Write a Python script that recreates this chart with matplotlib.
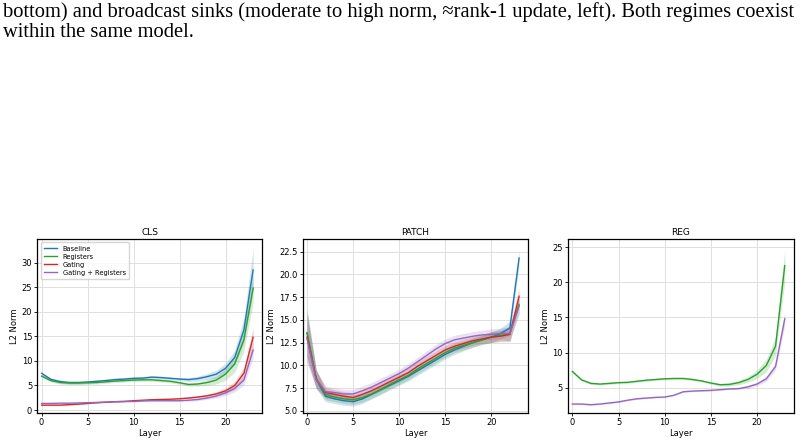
import matplotlib
matplotlib.use("Agg")
import matplotlib.pyplot as plt
import numpy as np

layers = list(range(24))

# CLS panel
cls_baseline = [7.47, 6.25, 5.8, 5.6, 5.6, 5.7, 5.85, 6.0, 6.2, 6.3, 6.45, 6.5, 6.7, 6.6, 6.45, 6.3, 6.2, 6.4, 6.8, 7.3, 8.5, 10.7, 16.3, 28.5]
cls_registers = [6.9, 6.0, 5.6, 5.5, 5.5, 5.55, 5.6, 5.75, 5.9, 6.0, 6.1, 6.15, 6.15, 6.0, 5.85, 5.55, 5.2, 5.3, 5.6, 6.1, 7.3, 9.4, 14.3, 24.8]
cls_gating = [1.0, 1.0, 1.0, 1.1, 1.2, 1.35, 1.5, 1.6, 1.7, 1.75, 1.9, 2.0, 2.1, 2.15, 2.2, 2.3, 2.45, 2.65, 2.9, 3.3, 3.9, 5.0, 7.5, 14.8]
cls_gating_reg = [1.35, 1.35, 1.4, 1.4, 1.45, 1.5, 1.55, 1.6, 1.7, 1.75, 1.75, 1.85, 1.9, 1.9, 1.9, 1.9, 2.0, 2.15, 2.45, 2.85, 3.5, 4.4, 6.1, 12.2]
cls_baseline_sd = [0.3, 0.3, 0.3, 0.3, 0.3, 0.3, 0.3, 0.3, 0.3, 0.3, 0.3, 0.3, 0.3, 0.3, 0.3, 0.3, 0.4, 0.5, 0.6, 0.8, 1.0, 1.5, 2.5, 4.4]
cls_registers_sd = [0.3, 0.3, 0.3, 0.3, 0.3, 0.3, 0.3, 0.3, 0.3, 0.3, 0.3, 0.3, 0.3, 0.3, 0.3, 0.3, 0.3, 0.4, 0.6, 0.8, 1.2, 1.7, 2.3, 3.0]
cls_gating_sd = [0.1, 0.1, 0.1, 0.1, 0.1, 0.1, 0.1, 0.1, 0.1, 0.1, 0.1, 0.1, 0.1, 0.1, 0.1, 0.15, 0.2, 0.25, 0.3, 0.4, 0.6, 0.8, 1.2, 2.0]
cls_gating_reg_sd = [0.1, 0.1, 0.1, 0.1, 0.1, 0.1, 0.1, 0.1, 0.1, 0.1, 0.1, 0.1, 0.1, 0.1, 0.1, 0.15, 0.2, 0.25, 0.3, 0.4, 0.5, 0.7, 1.0, 1.6]

# PATCH panel
patch_baseline = [13.5, 8.45, 6.6, 6.3, 6.1, 6.0, 6.3, 6.8, 7.3, 7.8, 8.3, 8.8, 9.4, 10.0, 10.6, 11.2, 11.7, 12.1, 12.5, 12.8, 13.1, 13.5, 14.1, 21.8]
patch_registers = [13.6, 8.5, 6.8, 6.5, 6.3, 6.2, 6.45, 6.85, 7.35, 7.9, 8.4, 8.9, 9.6, 10.2, 10.8, 11.4, 11.9, 12.2, 12.5, 12.8, 13.1, 13.3, 13.5, 16.7]
patch_gating = [13.1, 8.5, 7.0, 6.8, 6.6, 6.45, 6.8, 7.2, 7.7, 8.2, 8.7, 9.2, 9.9, 10.5, 11.1, 11.7, 12.1, 12.4, 12.7, 12.9, 13.1, 13.2, 13.4, 17.6]
patch_gating_reg = [12.9, 8.4, 7.1, 7.0, 6.85, 6.85, 7.2, 7.6, 8.1, 8.6, 9.1, 9.7, 10.4, 11.1, 11.8, 12.4, 12.8, 13.0, 13.2, 13.35, 13.4, 13.5, 13.5, 16.5]
patch_sd = [2.6, 1.0, 0.6, 0.5, 0.5, 0.5, 0.5, 0.5, 0.5, 0.5, 0.5, 0.5, 0.5, 0.5, 0.5, 0.5, 0.5, 0.5, 0.5, 0.5, 0.6, 0.6, 0.8, 0.9]

# REG panel
reg_registers = [7.3, 6.1, 5.6, 5.5, 5.6, 5.7, 5.75, 5.9, 6.05, 6.15, 6.25, 6.3, 6.3, 6.15, 5.95, 5.65, 5.4, 5.45, 5.7, 6.15, 6.9, 8.15, 10.9, 22.4]
reg_gating_reg = [2.65, 2.65, 2.55, 2.65, 2.8, 2.95, 3.2, 3.4, 3.5, 3.6, 3.65, 3.9, 4.4, 4.5, 4.55, 4.6, 4.7, 4.8, 4.85, 5.1, 5.5, 6.25, 8.0, 14.8]
reg_registers_sd = [0.15, 0.15, 0.15, 0.15, 0.15, 0.15, 0.15, 0.15, 0.15, 0.15, 0.15, 0.15, 0.15, 0.15, 0.15, 0.15, 0.2, 0.25, 0.3, 0.4, 0.6, 0.9, 1.3, 2.3]
reg_gating_reg_sd = [0.1, 0.1, 0.1, 0.1, 0.1, 0.1, 0.1, 0.1, 0.1, 0.1, 0.1, 0.1, 0.1, 0.1, 0.1, 0.1, 0.1, 0.1, 0.15, 0.2, 0.25, 0.35, 0.5, 1.0]

labels = ["Baseline", "Registers", "Gating", "Gating + Registers"]
colors = ["#1f77b4", "#2ca02c", "#d62728", "#9467bd"]

W, H = 806, 442
fig = plt.figure(figsize=(W / 100, H / 100), dpi=100)

# caption text at top
line1 = "bottom) and broadcast sinks (moderate to high norm, \u2248rank-1 update, left). Both regimes coexist"
line2 = "within the same model."
t1 = fig.text(3 / W, 1 - 17 / H, line1, family="Liberation Serif", fontsize=10.5, ha="left", va="baseline")
fig.canvas.draw()
r = fig.canvas.get_renderer()
w = t1.get_window_extent(r).width
fs = 10.5 * 792 / w
t1.set_fontsize(fs)
fig.text(3 / W, 1 - 37 / H, line2, family="Liberation Serif", fontsize=fs, ha="left", va="baseline")

def make_ax(x0, x1, ylim):
    ax = fig.add_axes([x0 / W, (H - 413) / H, (x1 - x0) / W, 174 / H])
    ax.set_xlim(-0.47, 24.0)
    ax.set_ylim(*ylim)
    ax.grid(True, color="#e0e0e0", linewidth=0.7)
    ax.set_axisbelow(True)
    ax.tick_params(labelsize=6, length=2.2, width=0.6, pad=1.5)
    for s in ax.spines.values():
        s.set_linewidth(0.9)
    ax.set_xticks([0, 5, 10, 15, 20])
    ax.set_xlabel("Layer", fontsize=6, labelpad=1)
    ax.set_ylabel("L2 Norm", fontsize=6, labelpad=2)
    return ax

def series(ax, y, sd, c, label=None):
    y = np.array(y); sd = np.array(sd)
    ax.fill_between(layers, y - sd, y + sd, color=c, alpha=0.2, linewidth=0)
    ax.plot(layers, y, color=c, linewidth=1.0, label=label)

ax1 = make_ax(37.3, 262.3, (-0.6, 34.8))
series(ax1, cls_baseline, cls_baseline_sd, colors[0], labels[0])
series(ax1, cls_registers, cls_registers_sd, colors[1], labels[1])
series(ax1, cls_gating, cls_gating_sd, colors[2], labels[2])
series(ax1, cls_gating_reg, cls_gating_reg_sd, colors[3], labels[3])
ax1.set_yticks([0, 5, 10, 15, 20, 25, 30])
ax1.set_title("CLS", fontsize=6.5, pad=3)
ax1.legend(loc="upper left", fontsize=4.8, frameon=True, handlelength=2.0,
           borderpad=0.5, labelspacing=0.3, fancybox=True, framealpha=0.8)

ax2 = make_ax(302.7, 528.3, (4.75, 23.9))
series(ax2, patch_baseline, patch_sd, colors[0])
series(ax2, patch_registers, patch_sd, colors[1])
series(ax2, patch_gating, patch_sd, colors[2])
series(ax2, patch_gating_reg, patch_sd, colors[3])
ax2.set_yticks([5.0, 7.5, 10.0, 12.5, 15.0, 17.5, 20.0, 22.5])
ax2.set_title("PATCH", fontsize=6.5, pad=3)

ax3 = make_ax(568, 794, (1.37, 26.2))
series(ax3, reg_registers, reg_registers_sd, colors[1])
series(ax3, reg_gating_reg, reg_gating_reg_sd, colors[3])
ax3.set_yticks([5, 10, 15, 20, 25])
ax3.set_title("REG", fontsize=6.5, pad=3)

fig.savefig("out.png", dpi=100)
